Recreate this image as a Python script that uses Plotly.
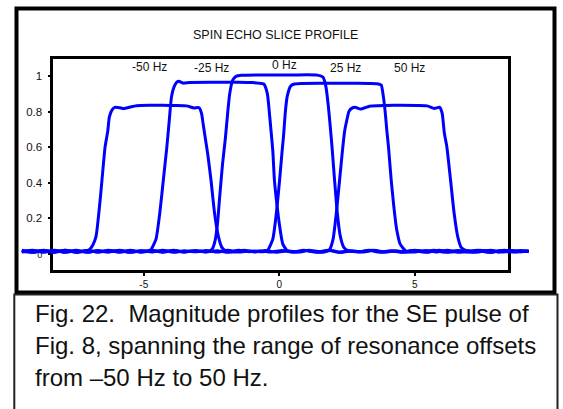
import plotly.graph_objects as go

W, H = 563, 409

# ---------------- data ----------------
offset_labels = ["-50 Hz", "-25 Hz", "0 Hz", "25 Hz", "50 Hz"]

x_m50 = [-9.5, -9.1, -8.7, -8.3, -7.9, -7.5, -7.15, -7.0, -6.88, -6.76, -6.6, -6.43, -6.33, -6.27, -6.17, -6.07,
         -5.9, -5.74, -5.5, -5.27, -4.8, -4.3, -3.8, -3.42, -3.28, -3.15, -2.96, -2.87, -2.8, -2.72, -2.64, -2.52,
         -2.39, -2.25, -2.12, -1.98, -1.7, -1.3, -0.9, -0.5, -0.1, 0.3, 0.7, 1.1, 1.5, 1.9, 2.3, 2.7, 3.1, 3.5, 3.9,
         4.3, 4.7, 5.1, 5.5, 5.9, 6.3, 6.7, 7.1, 7.5, 7.9, 8.3, 8.7, 9.2]
y_m50 = [0.018, 0.01, 0.02, 0.011, 0.019, 0.01, 0.016, 0.025, 0.05, 0.1, 0.32, 0.6, 0.69, 0.77, 0.81, 0.824,
         0.822, 0.817, 0.826, 0.833, 0.835, 0.835, 0.834, 0.832, 0.826, 0.82, 0.822, 0.79, 0.72, 0.64, 0.56, 0.414,
         0.23, 0.1, 0.037, 0.018, 0.01, 0.02, 0.011, 0.019, 0.009, 0.018, 0.01, 0.02, 0.012, 0.019, 0.009, 0.017,
         0.011, 0.02, 0.01, 0.018, 0.009, 0.019, 0.011, 0.02, 0.01, 0.017, 0.009, 0.019, 0.011, 0.02, 0.012, 0.016]

x_m25 = [-9.5, -9.1, -8.7, -8.3, -7.9, -7.5, -7.1, -6.7, -6.3, -5.9, -5.5, -5.1, -4.9, -4.74, -4.55, -4.41, -4.28,
         -4.15, -4.06, -3.98, -3.88, -3.78, -3.71, -3.55, -3.3, -2.5, -1.5, -1.0, -0.77, -0.57, -0.44, -0.37, -0.31,
         -0.24, -0.18, -0.08, 0.03, 0.13, 0.29, 0.6, 1.0, 1.4, 1.8, 2.2, 2.6, 3.0, 3.4, 3.8, 4.2, 4.6, 5.0, 5.4, 5.8,
         6.2, 6.6, 7.0, 7.4, 7.8, 8.2, 8.6, 9.2]
y_m25 = [0.012, 0.02, 0.01, 0.018, 0.009, 0.02, 0.011, 0.017, 0.01, 0.019, 0.009, 0.018, 0.014, 0.024, 0.083, 0.23,
         0.414, 0.6, 0.75, 0.88, 0.94, 0.965, 0.97, 0.96, 0.964, 0.965, 0.965, 0.963, 0.96, 0.955, 0.9, 0.8, 0.7,
         0.58, 0.414, 0.267, 0.138, 0.055, 0.018, 0.01, 0.019, 0.011, 0.02, 0.009, 0.018, 0.012, 0.02, 0.01, 0.017,
         0.011, 0.02, 0.009, 0.018, 0.01, 0.019, 0.012, 0.02, 0.009, 0.017, 0.011, 0.015]

x_0 = [-9.5, -9.1, -8.7, -8.3, -7.9, -7.5, -7.1, -6.7, -6.3, -5.9, -5.5, -5.1, -4.7, -4.3, -3.9, -3.5, -3.1, -2.7,
       -2.49, -2.386, -2.29, -2.2, -2.094, -1.99, -1.9, -1.83, -1.724, -1.6, -1.4, -0.5, 0.5, 1.4, 1.614, 1.72,
       1.81, 1.88, 1.946, 2.04, 2.14, 2.25, 2.38, 2.54, 2.9, 3.3, 3.7, 4.1, 4.5, 4.9, 5.3, 5.7, 6.1, 6.5, 6.9, 7.3,
       7.7, 8.1, 8.5, 8.9, 9.2]
y_0 = [0.015, 0.009, 0.019, 0.012, 0.02, 0.009, 0.018, 0.011, 0.02, 0.01, 0.017, 0.012, 0.02, 0.009, 0.019, 0.011,
       0.018, 0.012, 0.024, 0.064, 0.156, 0.32, 0.506, 0.65, 0.8, 0.9, 0.975, 0.998, 1.004, 1.006, 1.006, 1.005,
       0.993, 0.94, 0.83, 0.716, 0.6, 0.414, 0.23, 0.1, 0.037, 0.018, 0.011, 0.02, 0.01, 0.018, 0.009, 0.019,
       0.012, 0.02, 0.01, 0.017, 0.011, 0.02, 0.009, 0.018, 0.012, 0.019, 0.014]

x_p25 = [-9.5, -9.1, -8.7, -8.3, -7.9, -7.5, -7.1, -6.7, -6.3, -5.9, -5.5, -5.1, -4.7, -4.3, -3.9, -3.5, -3.1, -2.7,
         -2.3, -1.9, -1.5, -1.1, -0.7, -0.44, -0.24, -0.107, 0.0, 0.105, 0.16, 0.224, 0.29, 0.42, 0.555, 0.8, 1.5,
         2.5, 3.3, 3.6, 3.76, 3.84, 3.906, 3.97, 4.03, 4.13, 4.225, 4.33, 4.46, 4.66, 5.0, 5.4, 5.8, 6.2, 6.6, 7.0,
         7.4, 7.8, 8.2, 8.6, 9.2]
y_p25 = [0.01, 0.019, 0.011, 0.02, 0.01, 0.017, 0.009, 0.019, 0.012, 0.02, 0.01, 0.018, 0.011, 0.02, 0.009, 0.018,
         0.012, 0.019, 0.01, 0.02, 0.011, 0.017, 0.012, 0.018, 0.083, 0.23, 0.396, 0.58, 0.67, 0.8, 0.884, 0.944,
         0.955, 0.958, 0.959, 0.959, 0.958, 0.957, 0.95, 0.884, 0.8, 0.69, 0.6, 0.414, 0.267, 0.138, 0.055, 0.018,
         0.01, 0.019, 0.011, 0.02, 0.009, 0.018, 0.012, 0.02, 0.01, 0.017, 0.013]

x_p50 = [-9.5, -9.1, -8.7, -8.3, -7.9, -7.5, -7.1, -6.7, -6.3, -5.9, -5.5, -5.1, -4.7, -4.3, -3.9, -3.5, -3.1, -2.7,
         -2.3, -1.9, -1.5, -1.1, -0.7, -0.3, 0.1, 0.5, 0.9, 1.3, 1.7, 1.853, 1.985, 2.105, 2.224, 2.343, 2.41, 2.475,
         2.568, 2.67, 2.8, 3.0, 3.33, 4.26, 5.1, 5.46, 5.72, 5.92, 6.01, 6.09, 6.185, 6.32, 6.45, 6.58, 6.71, 6.91,
         7.3, 7.7, 8.1, 8.5, 8.9, 9.2]
y_p50 = [0.02, 0.011, 0.018, 0.009, 0.02, 0.012, 0.019, 0.01, 0.018, 0.011, 0.02, 0.009, 0.017, 0.012, 0.02, 0.01,
         0.019, 0.011, 0.018, 0.009, 0.02, 0.012, 0.017, 0.01, 0.019, 0.011, 0.02, 0.01, 0.012, 0.024, 0.083, 0.23,
         0.414, 0.6, 0.69, 0.74, 0.8, 0.818, 0.824, 0.814, 0.83, 0.835, 0.834, 0.832, 0.818, 0.824, 0.79, 0.68, 0.6,
         0.414, 0.23, 0.1, 0.037, 0.018, 0.01, 0.019, 0.011, 0.02, 0.012, 0.016]

series_x = [x_m50, x_m25, x_0, x_p25, x_p50]
series_y = [y_m50, y_m25, y_0, y_p25, y_p50]
for sx, sy in zip(series_x, series_y):
    assert len(sx) == len(sy)

xtick_vals = [-5, 0, 5]
xtick_text = ["-5", "0", "5"]
ytick_vals = [0, 0.2, 0.4, 0.6, 0.8, 1]
ytick_text = ['<span style="font-size:9px">0</span>', "0.2", "0.4", "0.6", "0.8", "1"]

title_text = "SPIN ECHO SLICE PROFILE"
caption_lines = [
    "Fig. 22.  Magnitude profiles for the SE pulse of",
    "Fig. 8, spanning the range of resonance offsets",
    "from \u201350 Hz to 50 Hz.",
]

# ---------------- layout geometry (pixels) ----------------
FONT = "Liberation Sans, Arial, sans-serif"
X0PX, XSCALE = 279.3, 27.1      # pixel of x=0, pixels per unit
Y0PX, YSCALE = 253.9, 177.9     # pixel of y=0, pixels per unit
LW = 2.5
P_LEFT, P_RIGHT = 52 + LW / 2, 509.7 - LW / 2
P_TOP, P_BOT = 57.7 + LW / 2, 271 - LW / 2

def xr(p):
    return (p - X0PX) / XSCALE

def yr(p):
    return (Y0PX - p) / YSCALE

xdom = [P_LEFT / W, P_RIGHT / W]
ydom = [1 - P_BOT / H, 1 - P_TOP / H]
xrange_main = [xr(P_LEFT), xr(P_RIGHT)]
yrange_main = [yr(P_BOT), yr(P_TOP)]

fig = go.Figure()
for sx, sy in zip(series_x, series_y):
    fig.add_trace(go.Scatter(
        x=sx, y=sy, xaxis="x2", yaxis="y", mode="lines",
        line=dict(color="#0000ff", width=3, shape="spline", smoothing=0.5),
        hoverinfo="skip", showlegend=False,
    ))

axis_common = dict(showgrid=False, zeroline=False, fixedrange=True)
fig.update_layout(
    width=W, height=H, autosize=False,
    margin=dict(l=0, r=0, t=0, b=0, pad=0),
    paper_bgcolor="white", plot_bgcolor="rgba(0,0,0,0)",
    font=dict(family=FONT, color="#111"),
    showlegend=False,
    xaxis=dict(domain=xdom, range=xrange_main, anchor="y", showline=True, linewidth=LW,
               linecolor="black", mirror=True, ticks="outside", ticklen=3, tickwidth=1.5,
               tickcolor="black", tickvals=xtick_vals, ticktext=xtick_text,
               tickfont=dict(size=10, family=FONT, color="#111"), **axis_common),
    yaxis=dict(domain=ydom, range=yrange_main, anchor="x", showline=True, linewidth=LW,
               linecolor="black", mirror=True, ticks="outside", ticklen=3, tickwidth=1.5,
               tickcolor="black", tickvals=ytick_vals, ticktext=ytick_text,
               ticklabelstandoff=3,
               tickfont=dict(size=11.5, family=FONT, color="#111"), **axis_common),
    xaxis2=dict(domain=[0, 1], range=[xr(0), xr(W)], anchor="y", visible=False, **axis_common),
    xaxis3=dict(overlaying="x", side="top", anchor="y", range=xrange_main, showline=False,
                ticks="inside", ticklen=4, tickwidth=1.5, tickcolor="black",
                tickvals=xtick_vals, showticklabels=False, **axis_common),
    yaxis2=dict(overlaying="y", side="right", anchor="x", range=yrange_main, showline=False,
                ticks="inside", ticklen=4, tickwidth=1.5, tickcolor="black",
                tickvals=ytick_vals, showticklabels=False, **axis_common),
)

# offset labels inside the plot (data coordinates)
label_pos = [(-4.79, 1.052), (-2.52, 1.043), (0.18, 1.064), (2.44, 1.045), (4.82, 1.045)]
for txt, (lx, ly) in zip(offset_labels, label_pos):
    fig.add_annotation(x=lx, y=ly, xref="x", yref="y", text=txt, showarrow=False,
                       font=dict(size=12, family=FONT, color="#111"), xanchor="center", yanchor="middle")

# title
fig.add_annotation(x=275 / W, y=1 - 34.7 / H, xref="paper", yref="paper", text=title_text,
                   showarrow=False, font=dict(size=12.5, family=FONT, color="#111"),
                   xanchor="center", yanchor="middle")

# caption lines
cap_y = [313.5, 345.5, 377.5]
for txt, cy in zip(caption_lines, cap_y):
    fig.add_annotation(x=33 / W, y=1 - cy / H, xref="paper", yref="paper", text=txt,
                       showarrow=False, font=dict(size=24, family=FONT, color="#111"),
                       xanchor="left", yanchor="middle", align="left")

# outer figure frame and caption box
fig.add_shape(type="rect", xref="paper", yref="paper",
              x0=16.5 / W, x1=554.5 / W, y0=1 - 292.5 / H, y1=1 - 8.5 / H,
              line=dict(color="black", width=4), layer="above")
fig.add_shape(type="rect", xref="paper", yref="paper",
              x0=14.3 / W, x1=557.5 / W, y0=-0.05, y1=1 - 294.5 / H,
              line=dict(color="#222", width=2), layer="above")

fig.write_html("out.html")
